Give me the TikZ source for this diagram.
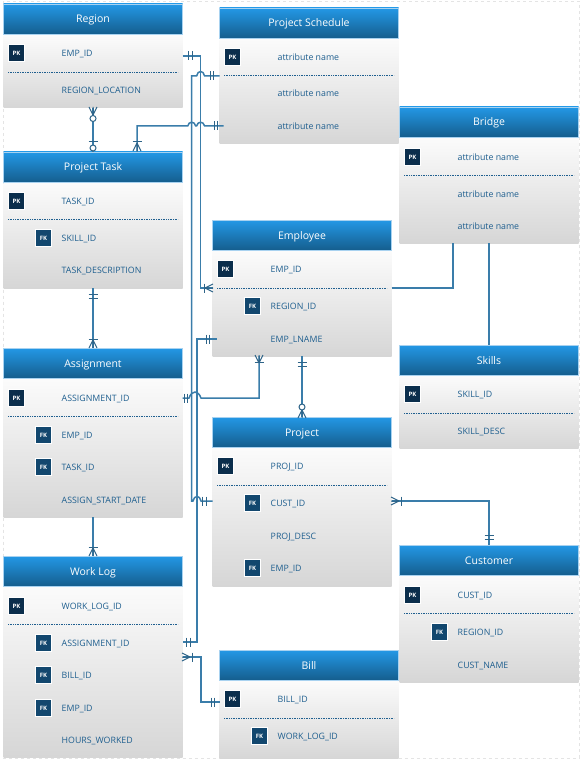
\documentclass[tikz,border=0pt]{standalone}
\usepackage{fontspec}
\setmainfont{Open Sans}
\definecolor{conn}{HTML}{3A7DAA}
\definecolor{attr}{HTML}{1F5F8F}
\definecolor{titletop}{HTML}{2398E6}
\definecolor{titlebot}{HTML}{155E8E}
\definecolor{titleedge}{HTML}{A8D2F0}
\definecolor{bodytop}{HTML}{FBFBFB}
\definecolor{bodybot}{HTML}{D6D6D6}
\definecolor{pkfill}{HTML}{0B2E4C}
\definecolor{fkfill}{HTML}{12476E}
\definecolor{frame}{HTML}{E4E4E4}
\tikzset{
  titlebox/.style={anchor=north west,minimum width=179pt,minimum height=30pt,inner sep=0pt,outer sep=0pt,
    top color=titletop,bottom color=titlebot,draw=titleedge,line width=0.5pt,text=white,
    text height=9pt,text depth=1pt,
    font=\fontsize{10.5}{13}\selectfont},
  bodybox/.style={anchor=north west,minimum width=179pt,inner sep=0pt,outer sep=0pt,
    top color=bodytop,bottom color=bodybot},
  rowsep/.style={draw=attr,line width=0.8pt,dash pattern=on 1pt off 0.7pt},
  attrtext/.style={anchor=mid west,inner sep=0pt,text=attr,font=\fontsize{8.8}{10}\selectfont},
  keybox/.style={minimum size=16.5pt,inner sep=0pt,draw=white,line width=1.2pt,text=white,
    font=\fontsize{6}{7}\selectfont\bfseries},
  pkbox/.style={keybox,fill=pkfill},
  fkbox/.style={keybox,fill=fkfill},
  cn/.style={draw=conn,line width=1.5pt,line join=miter},
  mk/.style={draw=conn!80!black,line width=1pt},
  crowfoot/.pic={\draw[mk] (0,0)--(8,-4) (0,0)--(8,0) (0,0)--(8,4);},
  ring/.pic={\draw[mk,fill=white] (0,0) circle[radius=3];}
}
% id, x, title top, body bottom, dash y, title
\newcommand\ertable[6]{%
  \node[titlebox] (#1T) at (#2-0.5,#3) {#6};
  \node[bodybox,minimum height={#4-#3-31.5}] (#1) at (#2-0.5,#3+31.5) {};
  \draw[rowsep] (#2+4,#5) -- (#2+174,#5);
}
% id, table x, y, text
\newcommand\pkrow[4]{\node[pkbox] (#1K) at (#2+12.5,#3) {PK};\node[attrtext] (#1) at (#2+57.5,#3+1) {#4};}
\newcommand\fkrow[4]{\node[fkbox] (#1K) at (#2+39.5,#3) {FK};\node[attrtext] (#1) at (#2+57.5,#3+1) {#4};}
\newcommand\plainrow[4]{\node[attrtext] (#1) at (#2+57.5,#3+1) {#4};}
\newcommand\tickH[2]{\draw[mk] (#1,#2-4.5) -- (#1,#2+4.5);}
\newcommand\tickV[2]{\draw[mk] (#1-4.5,#2) -- (#1+4.5,#2);}
\begin{document}
\begin{tikzpicture}[x=1pt,y=-1pt]
\useasboundingbox (0,0) rectangle (580,759);
\fill[white] (0,0) rectangle (580,759);
\draw[frame,dashed,line width=0.7pt] (3.5,1.5) rectangle (579,758);

\ertable{region}{4}{4}{108}{72}{Region}
\pkrow{regionA}{4}{53}{EMP\_ID}
\plainrow{regionB}{4}{90}{REGION\_LOCATION}

\ertable{sched}{220}{8}{144}{75.5}{Project Schedule}
\pkrow{schedA}{220}{57}{attribute name}
\plainrow{schedB}{220}{93}{attribute name}
\plainrow{schedC}{220}{126}{attribute name}

\ertable{task}{4}{152}{288}{219}{Project Task}
\pkrow{taskA}{4}{201}{TASK\_ID}
\fkrow{taskB}{4}{238}{SKILL\_ID}
\plainrow{taskC}{4}{270}{TASK\_DESCRIPTION}

\ertable{bridge}{400}{107}{243}{175}{Bridge}
\pkrow{bridgeA}{400}{157}{attribute name}
\plainrow{bridgeB}{400}{194}{attribute name}
\plainrow{bridgeC}{400}{226}{attribute name}

\ertable{emp}{213}{220}{356}{288}{Employee}
\pkrow{empA}{213}{269}{EMP\_ID}
\fkrow{empB}{213}{306}{REGION\_ID}
\plainrow{empC}{213}{339}{EMP\_LNAME}

\ertable{assign}{4}{348}{517}{416}{Assignment}
\pkrow{assignA}{4}{398}{ASSIGNMENT\_ID}
\fkrow{assignB}{4}{435}{EMP\_ID}
\fkrow{assignC}{4}{467}{TASK\_ID}
\plainrow{assignD}{4}{500}{ASSIGN\_START\_DATE}

\ertable{skills}{400}{345}{448}{413}{Skills}
\pkrow{skillsA}{400}{394}{SKILL\_ID}
\plainrow{skillsB}{400}{431}{SKILL\_DESC}

\ertable{proj}{213}{417}{586}{485}{Project}
\pkrow{projA}{213}{466}{PROJ\_ID}
\fkrow{projB}{213}{503}{CUST\_ID}
\plainrow{projC}{213}{536}{PROJ\_DESC}
\fkrow{projD}{213}{568}{EMP\_ID}

\ertable{wlog}{4}{556}{757}{624}{Work Log}
\pkrow{wlogA}{4}{606}{WORK\_LOG\_ID}
\fkrow{wlogB}{4}{643}{ASSIGNMENT\_ID}
\fkrow{wlogC}{4}{675}{BILL\_ID}
\fkrow{wlogD}{4}{708}{EMP\_ID}
\plainrow{wlogE}{4}{740}{HOURS\_WORKED}

\ertable{cust}{400}{545}{682}{613}{Customer}
\pkrow{custA}{400}{595}{CUST\_ID}
\fkrow{custB}{400}{632}{REGION\_ID}
\plainrow{custC}{400}{665}{CUST\_NAME}

\ertable{bill}{220}{650}{759}{718}{Bill}
\pkrow{billA}{220}{699}{BILL\_ID}
\fkrow{billB}{220}{736}{WORK\_LOG\_ID}

% routing columns
\coordinate (busA) at (191.7,0);
\coordinate (busB) at (197,0);
\coordinate (busC) at (200.6,0);
\coordinate (elbowBill) at (201,0);
\coordinate (elbowEmp) at (259,0);
\coordinate (elbowTask) at (137,0);

% Region -- Employee
\draw[cn] (region.east |- 0,56) -- (busC |- 0,56) -- (busC |- 0,288) -- (emp.west |- 0,288);
\tickH{188.5}{56}\tickH{192}{56}
\pic at (205,288) {crowfoot};
\tickH{204}{288}

% Project Schedule -- Project
\draw[cn] (sched.west |- 0,76) -- ([xshift=4pt]busC |- 0,76)
  .. controls +(-1,-6) and +(1,-6) .. ([xshift=-4pt]busC |- 0,76)
  -- (busA |- 0,76) -- (busA |- 0,501)
  -- ([xshift=-4pt]busB |- 0,501) .. controls +(1,-6) and +(-1,-6) .. ([xshift=4pt]busB |- 0,501)
  -- (proj.west |- 0,501);
\tickH{210}{76}\tickH{213.5}{76}
\tickH{202.5}{501}\tickH{206}{501}

% Project Task -- Project Schedule
\draw[cn] (elbowTask |- taskT.north) -- (elbowTask |- 0,126)
  -- ([xshift=-4pt]busA |- 0,126) .. controls +(1,-5) and +(-1,-5) .. ([xshift=4pt]busA |- 0,126)
  -- ([xshift=-4pt]busC |- 0,126) .. controls +(1,-5) and +(-1,-5) .. ([xshift=4pt]busC |- 0,126)
  -- ([xshift=4pt]sched.west |- 0,126);
\tickH{214}{126}\tickH{217.5}{126}
\tickV{137}{141.5}
\pic[rotate=-90] at (137,143) {crowfoot};

% Employee -- Work Log
\draw[cn] ([xshift=4pt]emp.west |- 0,339) -- (busB |- 0,339) -- (busB |- 0,642) -- (wlog.east |- 0,642);
\tickH{206}{339}\tickH{209.5}{339}
\tickH{186}{642}\tickH{190}{642}

% Assignment -- Employee
\draw[cn] (assign.east |- 0,398) -- (189,398)
  .. controls (192,390) and (198,390) .. (201,398)
  -- (elbowEmp |- 0,398) -- (elbowEmp |- emp.south);
\tickH{184}{398}\tickH{187.5}{398}
\pic[rotate=90] at (259,363) {crowfoot};
\tickV{259}{362.5}

% Work Log -- Bill
\draw[cn] (wlog.east |- 0,657) -- (elbowBill |- 0,657) -- (elbowBill |- 0,702) -- (bill.west |- 0,702);
\pic[rotate=180] at (190,657) {crowfoot};
\tickH{192}{657}
\tickH{211}{702}\tickH{214.5}{702}

% Region -- Project Task
\draw[cn] (region.south) -- (taskT.north);
\pic[rotate=90] at (93,115) {crowfoot};
\pic at (93,118.5) {ring};
\tickV{93}{141.5}
\pic at (93,148) {ring};

% Project Task -- Assignment
\draw[cn] (task.south) -- (assignT.north);
\tickV{93}{294.5}\tickV{93}{298}
\tickV{93}{339}
\pic[rotate=-90] at (93,340) {crowfoot};

% Assignment -- Work Log
\draw[cn] (assign.south) -- (wlogT.north);
\tickV{93}{547}
\pic[rotate=-90] at (93,548) {crowfoot};

% Employee -- Project
\draw[cn] (emp.south) -- (projT.north);
\tickV{302}{362.5}\tickV{302}{366}
\pic at (302,407) {ring};
\pic[rotate=-90] at (302,410) {crowfoot};

% Project -- Customer
\draw[cn] (proj.east |- 0,501) -- (cust.north |- 0,501) -- (custT.north);
\pic[rotate=180] at (399,501) {crowfoot};
\tickH{401}{501}
\tickV{489}{535.5}\tickV{489}{539}

% Employee -- Bridge
\draw[cn] (emp.east |- 0,288) -- (453,288) -- (453,243);

% Bridge -- Skills
\draw[cn] (bridge.south) -- (skillsT.north);
\end{tikzpicture}
\end{document}
